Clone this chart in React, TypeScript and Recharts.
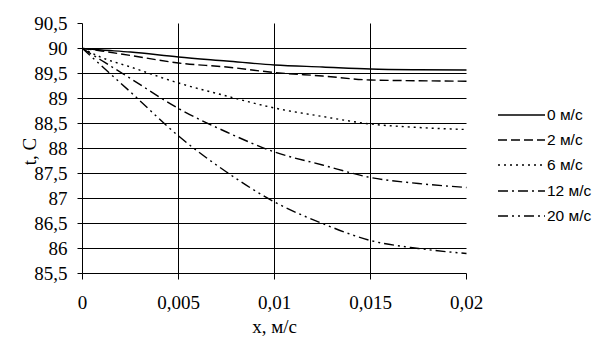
import { LineChart, Line, XAxis, YAxis, CartesianGrid, Legend } from "recharts";

const X_VALUES = [0, 0.001, 0.0025, 0.005, 0.0075, 0.01, 0.0125, 0.015, 0.0175, 0.02];

const T_0 = [90, 89.97, 89.93, 89.83, 89.75, 89.67, 89.63, 89.59, 89.575, 89.57];
const T_2 = [90, 89.95, 89.86, 89.71, 89.63, 89.52, 89.45, 89.37, 89.355, 89.345];
const T_6 = [90, 89.82, 89.63, 89.31, 89.05, 88.81, 88.64, 88.49, 88.42, 88.38];
const T_12 = [90, 89.76, 89.4, 88.8, 88.33, 87.93, 87.67, 87.42, 87.3, 87.22];
const T_20 = [90, 89.65, 89.13, 88.25, 87.53, 86.93, 86.5, 86.16, 86.0, 85.9];

const X_TICKS = [0, 0.005, 0.01, 0.015, 0.02];
const Y_TICKS = [85.5, 86, 86.5, 87, 87.5, 88, 88.5, 89, 89.5, 90, 90.5];
const Y_GRID = [86, 86.5, 87, 87.5, 88, 88.5, 89, 89.5, 90];
const X_GRID = [0.005, 0.01, 0.015];

const SERIES = [
  { key: "v0", name: "0 м/с", values: T_0, dash: undefined },
  { key: "v2", name: "2 м/с", values: T_2, dash: "9 4" },
  { key: "v6", name: "6 м/с", values: T_6, dash: "2 4" },
  { key: "v12", name: "12 м/с", values: T_12, dash: "10 4 2 4" },
  { key: "v20", name: "20 м/с", values: T_20, dash: "10 4 2 4 2 4" },
];

const data = X_VALUES.map((x, i) => {
  const row: Record<string, number> = { x };
  SERIES.forEach((s) => {
    row[s.key] = s.values[i];
  });
  return row;
});

const SERIF = "'Liberation Serif', 'DejaVu Serif', serif";
const SANS = "'Liberation Sans', Arial, sans-serif";

const fmt = (v: number) => String(v).replace(".", ",");

function SpeedLegend() {
  return (
    <div style={{ fontFamily: SANS, fontSize: 15.5, color: "#000" }}>
      {SERIES.map((s) => (
        <div
          key={s.key}
          style={{ display: "flex", alignItems: "center", height: 25.4 }}
        >
          <svg width={49} height={10} style={{ display: "block" }}>
            <line
              x1={0}
              x2={47}
              y1={5}
              y2={5}
              stroke="#000"
              strokeWidth={1.5}
              strokeDasharray={s.dash}
            />
          </svg>
          <span>{s.name}</span>
        </div>
      ))}
    </div>
  );
}

export default function App() {
  return (
    <div style={{ position: "absolute", left: 0, top: 0, background: "#fff" }}>
      <LineChart
        width={605}
        height={353}
        data={data}
        margin={{ top: 23.5, right: 138.5, bottom: 29.5, left: 0 }}
      >
        <CartesianGrid
          stroke="#000"
          strokeWidth={1}
          horizontalValues={Y_GRID}
          verticalValues={X_GRID}
        />
        <XAxis
          dataKey="x"
          type="number"
          domain={[0, 0.02]}
          ticks={X_TICKS}
          interval={0}
          tickFormatter={fmt}
          height={50}
          tickSize={6}
          tickMargin={16}
          axisLine={{ stroke: "#000" }}
          tickLine={{ stroke: "#000" }}
          tick={{ fill: "#000", fontSize: 19, fontFamily: SERIF }}
          label={{
            content: (props: any) => {
              const vb = props.viewBox || {};
              return (
                <text
                  x={vb.x + vb.width / 2}
                  y={vb.y + 53}
                  textAnchor="middle"
                  dominantBaseline="central"
                  fontFamily={SERIF}
                  fontSize={19}
                  fill="#000"
                >
                  x, м/с
                </text>
              );
            },
          }}
        />
        <YAxis
          type="number"
          domain={[85.5, 90.5]}
          ticks={Y_TICKS}
          interval={0}
          tickFormatter={fmt}
          width={82.5}
          tickSize={5}
          tickMargin={10}
          axisLine={{ stroke: "#000" }}
          tickLine={{ stroke: "#000" }}
          tick={{ fill: "#000", fontSize: 19, fontFamily: SERIF }}
          label={{
            content: (props: any) => {
              const vb = props.viewBox || {};
              const cx = vb.x + 29;
              const cy = vb.y + vb.height / 2 + 3;
              return (
                <text
                  x={cx}
                  y={cy}
                  transform={`rotate(-90 ${cx} ${cy})`}
                  textAnchor="middle"
                  dominantBaseline="central"
                  fontFamily={SERIF}
                  fontSize={19}
                  fill="#000"
                >
                  t, C
                </text>
              );
            },
          }}
        />
        <Legend
          layout="vertical"
          align="center"
          verticalAlign="middle"
          wrapperStyle={{ left: 498, top: 102, width: 107 }}
          content={<SpeedLegend />}
        />
        {SERIES.map((s) => (
          <Line
            key={s.key}
            dataKey={s.key}
            name={s.name}
            type="monotone"
            stroke="#000"
            strokeWidth={1.4}
            strokeDasharray={s.dash}
            dot={false}
            activeDot={false}
            isAnimationActive={false}
          />
        ))}
      </LineChart>
    </div>
  );
}
